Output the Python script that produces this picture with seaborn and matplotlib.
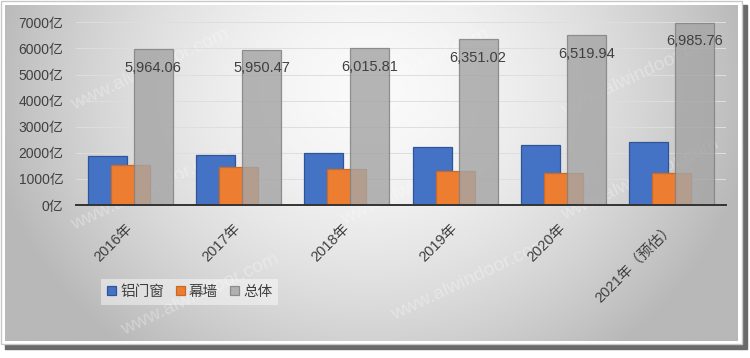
import numpy as np
import pandas as pd
import matplotlib
matplotlib.use("Agg")
import matplotlib.pyplot as plt
import seaborn as sns
from matplotlib.patches import Rectangle

# ---------------- data ----------------
years = ["2016年", "2017年", "2018年", "2019年", "2020年", "2021年（预估）"]
series = ["铝门窗", "幕墙", "总体"]
alu_window = [1880, 1910, 2010, 2230, 2310, 2430]
curtain_wall = [1545, 1470, 1390, 1315, 1240, 1240]
total = [5964.06, 5950.47, 6015.81, 6351.02, 6519.94, 6985.76]
yticks = [0, 1000, 2000, 3000, 4000, 5000, 6000, 7000]

colors = ["#4472C4", "#ED7D31", "#A5A5A5"]
edges = ["#2F5597", "#C86A28", "#7F7F7F"]

df = pd.DataFrame({
    "year": years * 3,
    "series": [series[0]] * 6 + [series[1]] * 6 + [series[2]] * 6,
    "value": alu_window + curtain_wall + total,
})

sns.set_theme(style="white")
plt.rcParams["font.family"] = ["Liberation Sans", "Noto Sans CJK SC", "DejaVu Sans"]

W, H = 750, 358
fig = plt.figure(figsize=(7.5, 3.58), dpi=100)
fig.patch.set_facecolor("white")

# ---------------- background frame with gradient ----------------
bg = fig.add_axes([0, 0, 1, 1])
bg.set_xlim(0, W)
bg.set_ylim(H, 0)
bg.axis("off")
bg.add_patch(Rectangle((5, 5), 742, 344, color="#6a6a6a", zorder=0))
bg.add_patch(Rectangle((0.5, 0.5), 741.5, 343.5, facecolor="white",
                       edgecolor="#c8c8c8", lw=1, zorder=1))
xx, yy = np.meshgrid(np.linspace(5, 738, 300), np.linspace(5, 341, 150))
d2 = ((xx - 370) / 380) ** 2 + ((yy - 90) / 330) ** 2
val = np.clip(250 - 64 * d2 ** 0.85, 184, 250) / 255.0
img = np.dstack([val, val, val])
bg.imshow(img, extent=(5, 738, 341, 5), aspect="auto", zorder=2, interpolation="bilinear")

# faint watermark
wm_pos = [(150, 70), (410, 70), (640, 75), (150, 190), (420, 185), (640, 180),
          (200, 295), (470, 280)]
for (wx, wy) in wm_pos:
    bg.text(wx, wy, "www.alwindoor.com", color="white", alpha=0.3, fontsize=14,
            rotation=25, ha="center", va="center", zorder=3)

# ---------------- main chart ----------------
ax = fig.add_axes([76 / W, 1 - 205 / H, 650 / W, (205 - 22.3) / H])
ax.set_facecolor("none")
sns.barplot(data=df, x="year", y="value", hue="series", hue_order=series,
            palette=colors, saturation=1, width=0.636, gap=-0.7,
            legend=False, ax=ax, zorder=3)

for cont, ec in zip(ax.containers, edges):
    for p in cont.patches:
        p.set_edgecolor(ec)
        p.set_linewidth(0.9)
for p in ax.containers[2].patches:
    p.set_alpha(0.82)

ax.bar_label(ax.containers[2], labels=[f"{v:,.2f}" for v in total],
             padding=-18.5, fontsize=10.5, color="#404040")

ax.set_ylim(0, 7000)
ax.set_xlim(-0.5, 5.5)
ax.set_yticks(yticks)
ax.set_yticklabels([f"{v}亿" for v in yticks], fontsize=10, color="#404040")
ax.set_xticks(range(len(years)))
ax.set_xticklabels(years, rotation=45, ha="right", va="center",
                   rotation_mode="anchor", fontsize=10.5, color="#404040")
ax.tick_params(axis="y", length=0, pad=9)
ax.tick_params(axis="x", length=0, pad=15)
ax.set_xlabel("")
ax.set_ylabel("")
ax.yaxis.grid(True, color="#dedede", lw=0.7, zorder=0)
ax.set_axisbelow(True)
for s in ["top", "right", "left"]:
    ax.spines[s].set_visible(False)
ax.spines["bottom"].set_color("#333333")
ax.spines["bottom"].set_linewidth(1.4)
ax.spines["bottom"].set_zorder(5)

leg = ax.legend(ax.containers, series, loc="center left",
                bbox_to_anchor=(94 / W, 1 - 292 / H), bbox_transform=fig.transFigure,
                ncol=3, frameon=True, fontsize=10.5, handlelength=0.6, handleheight=0.6,
                handletextpad=0.3, columnspacing=0.8, borderpad=0.4, fancybox=False)
leg.get_frame().set_facecolor("white")
leg.get_frame().set_alpha(0.45)
leg.get_frame().set_edgecolor("none")
for t in leg.get_texts():
    t.set_color("#404040")

fig.savefig("out.png", dpi=100)
